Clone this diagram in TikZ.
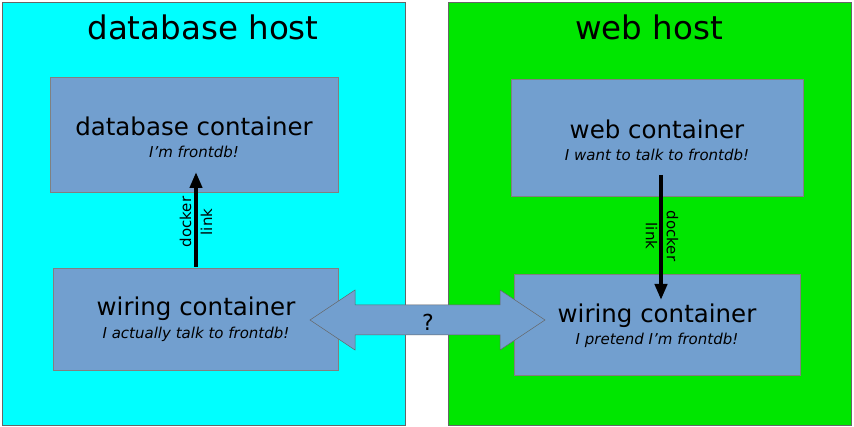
\documentclass[tikz,border=0pt]{standalone}
\usepackage{fontspec}
\setmainfont{DejaVu Sans}
\usetikzlibrary{arrows.meta,shapes.arrows}
\begin{document}
\begin{tikzpicture}[x=1pt,y=-1pt,
 panel/.style={draw=black!60,line width=0.6pt},
 box/.style={draw=black!50,line width=0.5pt},
 ttl/.style={font=\fontsize{32.5}{36}\selectfont},
 big/.style={font=\fontsize{24.5}{28}\selectfont},
 sub/.style={font=\fontsize{15}{17}\selectfont\itshape},
 lbl/.style={font=\fontsize{15}{21}\selectfont,align=center},
 link/.style={-{Triangle[length=16pt,width=12pt]},line width=4pt}]
\definecolor{boxc}{RGB}{114,159,207}
\definecolor{cyanc}{RGB}{0,255,255}
\definecolor{greenc}{RGB}{0,230,0}
\useasboundingbox (0,0) rectangle (854,427);
\fill[white] (0,0) rectangle (854,427);
\filldraw[panel,fill=cyanc] (2,2) rectangle (405,425);
\filldraw[panel,fill=greenc] (448,2) rectangle (851,425);
\node[ttl] (t1) at (203,27) {database host};
\node[ttl] (t2) at (649,27) {web host};
\filldraw[box,fill=boxc] (50,77) rectangle (338,192);
\node[big] (d1) at (194,126) {database container};
\node[sub] (d2) at (194,152) {I'm frontdb!};
\filldraw[box,fill=boxc] (53,268) rectangle (338,370);
\node[big] (w1) at (196,309) {wiring container};
\node[sub] (w2) at (196,334) {I actually talk to frontdb!};
\filldraw[box,fill=boxc] (511,79) rectangle (803,196);
\node[big] (c1) at (657,129) {web container};
\node[sub] (c2) at (657,155) {I want to talk to frontdb!};
\filldraw[box,fill=boxc] (514,274) rectangle (800,375);
\node[big] (r1) at (657,316) {wiring container};
\node[sub] (r2) at (657,340) {I pretend I'm frontdb!};
\coordinate (la) at (196,267);
\coordinate (lb) at (196,172);
\draw[link] (la) -- (lb);
\node[lbl,rotate=90] (k1) at (196,222) {docker\\link};
\coordinate (ra) at (661,175);
\coordinate (rb) at (661,300);
\draw[link] (ra) -- (rb);
\node[lbl,rotate=-90] (k2) at (662,236) {docker\\link};
\filldraw[draw=black!60,fill=boxc,line width=0.5pt]
 (310,320) -- (355,290) -- (355,305) -- (500,305) -- (500,290) -- (545,320)
 -- (500,350) -- (500,335) -- (355,335) -- (355,350) -- cycle;
\node[font=\fontsize{22}{24}\selectfont] (q) at (428,322) {?};
\end{tikzpicture}
\end{document}
